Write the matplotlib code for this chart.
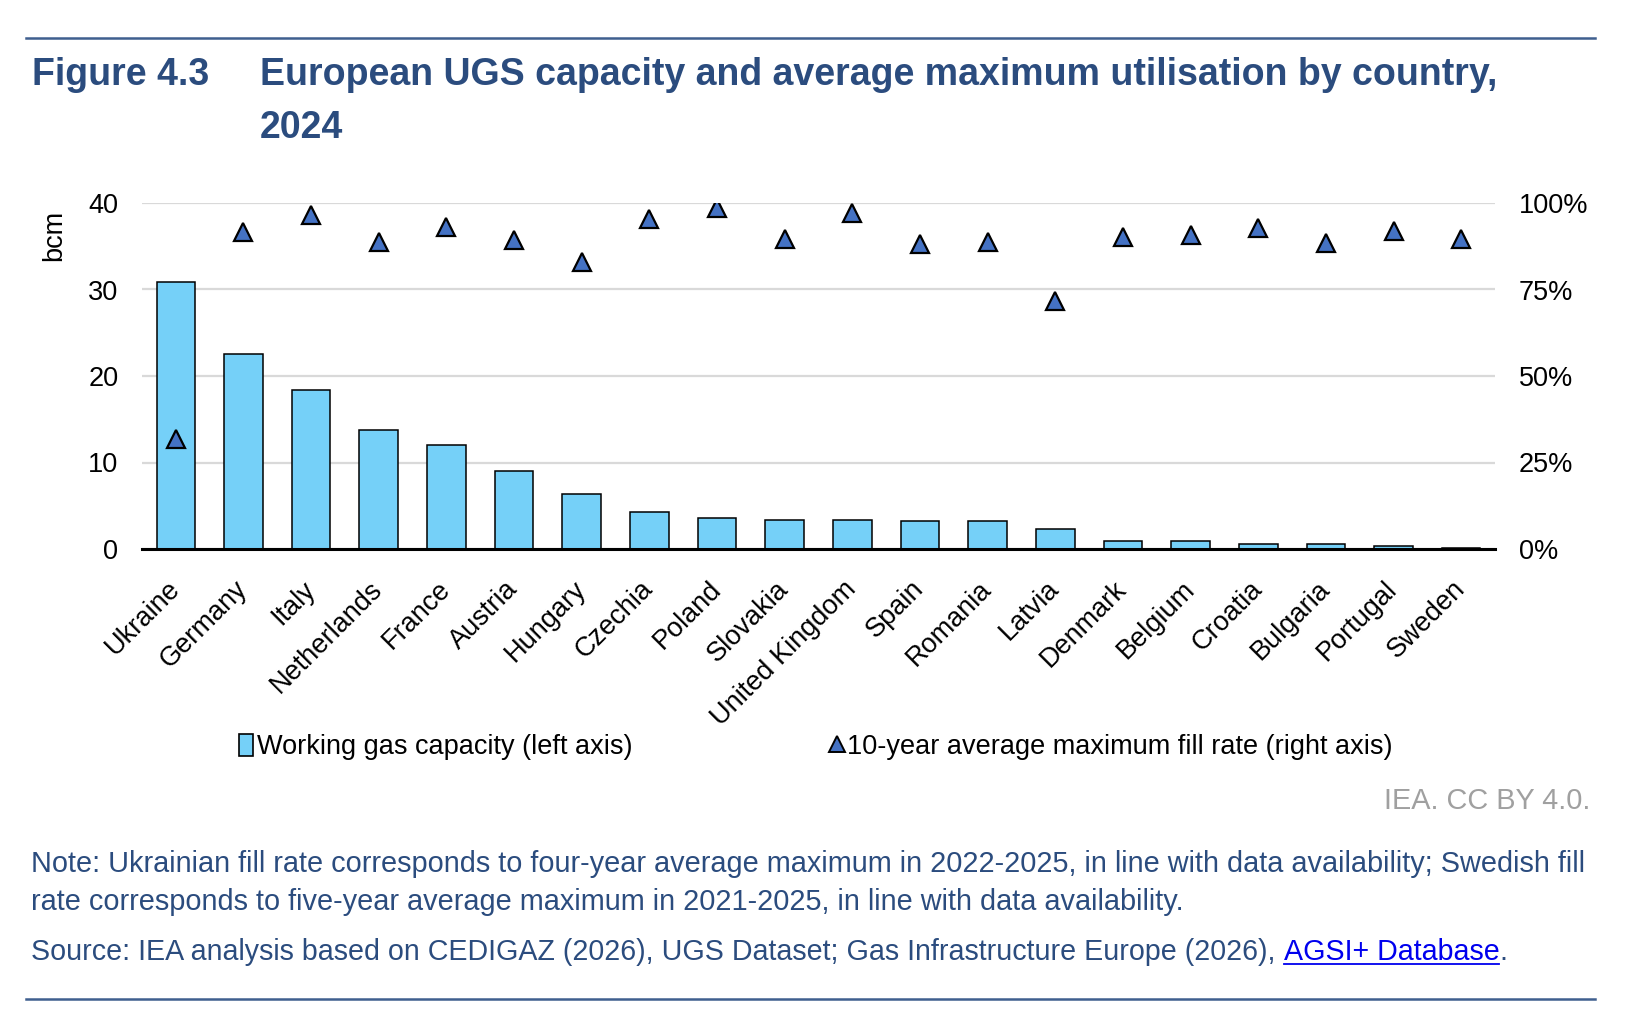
import matplotlib
matplotlib.use("Agg")
import matplotlib.pyplot as plt
from matplotlib.lines import Line2D
from matplotlib.patches import Patch
from matplotlib.ticker import PercentFormatter

plt.rcParams['font.family'] = ['Liberation Sans', 'DejaVu Sans']

# data
countries = ["Ukraine", "Germany", "Italy", "Netherlands", "France", "Austria",
             "Hungary", "Czechia", "Poland", "Slovakia", "United Kingdom", "Spain",
             "Romania", "Latvia", "Denmark", "Belgium", "Croatia", "Bulgaria",
             "Portugal", "Sweden"]
capacity_bcm = [30.9, 22.6, 18.4, 13.75, 12.0, 9.0, 6.4, 4.3, 3.58, 3.4, 3.35,
                3.27, 3.2, 2.3, 0.96, 0.88, 0.62, 0.6, 0.38, 0.08]
fill_rate = [0.318, 0.916, 0.965, 0.888, 0.93, 0.894, 0.829, 0.955, 0.985, 0.896,
             0.971, 0.882, 0.887, 0.716, 0.903, 0.907, 0.928, 0.885, 0.918, 0.896]

navy = "#2B4C7E"
bar_col = "#75D0F8"
tri_col = "#4472C4"
fs = 19.5      # chart text
fs_note = 20.8 # footer text

W, H = 1645, 1030
fig = plt.figure(figsize=(W / 100, H / 100), dpi=100)

def fx(px):
    return px / W

def fy(py):
    return 1 - py / H

ax = fig.add_axes([fx(142), fy(549), fx(1495) - fx(142), fy(203) - fy(549)])
x = list(range(len(countries)))
ax.bar(x, capacity_bcm, width=0.57, color=bar_col, edgecolor="black", linewidth=1.1, zorder=2)
ax.set_xlim(-0.5, len(countries) - 0.5)
ax.set_ylim(0, 40)
ax.set_yticks([0, 10, 20, 30, 40])
ax.grid(axis="y", color="#D9D9D9", linewidth=1.6, zorder=0)
ax.set_axisbelow(True)
for s in ["top", "right", "left"]:
    ax.spines[s].set_visible(False)
ax.spines["bottom"].set_linewidth(2.2)
ax.spines["bottom"].set_zorder(5)
ax.tick_params(axis="y", length=0, pad=17, labelsize=fs)
ax.tick_params(axis="x", length=0, pad=26, labelsize=fs)
ax.set_xticks(x)
ax.set_xticklabels(countries, rotation=45, ha="right", va="center", rotation_mode="anchor")
ax.text(fx(54), fy(235), "bcm", transform=fig.transFigure, rotation=90,
        ha="center", va="center", fontsize=fs)

ax2 = ax.twinx()
ax2.plot(x, fill_rate, linestyle="none", marker="^", markersize=13,
         markerfacecolor=tri_col, markeredgecolor="black", markeredgewidth=1.6, zorder=4)
ax2.set_ylim(0, 1)
ax2.set_yticks([0, 0.25, 0.5, 0.75, 1.0])
ax2.yaxis.set_major_formatter(PercentFormatter(1.0, decimals=0))
ax2.tick_params(axis="y", length=0, pad=17, labelsize=fs)
for s in ["top", "right", "left", "bottom"]:
    ax2.spines[s].set_visible(False)

handles = [Patch(facecolor=bar_col, edgecolor="black", linewidth=1.2),
           Line2D([], [], linestyle="none", marker="^", markersize=11,
                  markerfacecolor=tri_col, markeredgecolor="black", markeredgewidth=1.4)]
fig.legend(handles, ["Working gas capacity (left axis)",
                     "10-year average maximum fill rate (right axis)"],
           loc="center", bbox_to_anchor=(fx(816), fy(747)), ncol=2, frameon=False,
           fontsize=fs, handlelength=0.5, handleheight=0.85, handletextpad=0.15,
           columnspacing=7.3)

# header / footer
fig.add_artist(Line2D([fx(26), fx(1595)], [fy(38), fy(38)], color="#3F5F8F", linewidth=1.8))
fig.add_artist(Line2D([fx(26), fx(1595)], [fy(999), fy(999)], color="#3F5F8F", linewidth=1.8))
fig.text(fx(32), fy(85), "Figure 4.3", fontsize=27, fontweight="bold", color=navy, va="baseline")
fig.text(fx(260), fy(85), "European UGS capacity and average maximum utilisation by country,",
         fontsize=27, fontweight="bold", color=navy, va="baseline")
fig.text(fx(260), fy(138), "2024", fontsize=27, fontweight="bold", color=navy, va="baseline")

fig.text(fx(1590), fy(809), "IEA. CC BY 4.0.", fontsize=fs_note, color="#A0A0A0",
         ha="right", va="baseline")
fig.text(fx(31), fy(872), "Note: Ukrainian fill rate corresponds to four-year average maximum in "
         "2022-2025, in line with data availability; Swedish fill",
         fontsize=fs_note, color=navy, va="baseline")
fig.text(fx(31), fy(910), "rate corresponds to five-year average maximum in 2021-2025, in line "
         "with data availability.", fontsize=fs_note, color=navy, va="baseline")
fs_src = 20.6
src = fig.text(fx(31), fy(960), "Source: IEA analysis based on CEDIGAZ (2026), UGS Dataset; "
               "Gas Infrastructure Europe (2026), ", fontsize=fs_src, color=navy, va="baseline")

fig.canvas.draw()
r = fig.canvas.get_renderer()
bb = src.get_window_extent(r)
link = fig.text(bb.x1 / W, fy(960), "AGSI+ Database", fontsize=fs_src, color="#0000EE",
                va="baseline")
bb2 = link.get_window_extent(r)
fig.add_artist(Line2D([bb2.x0 / W, bb2.x1 / W], [fy(964), fy(964)], color="#0000EE", linewidth=1.3))
fig.text(bb2.x1 / W, fy(960), ".", fontsize=fs_src, color=navy, va="baseline")

fig.savefig("out.png", dpi=100)
